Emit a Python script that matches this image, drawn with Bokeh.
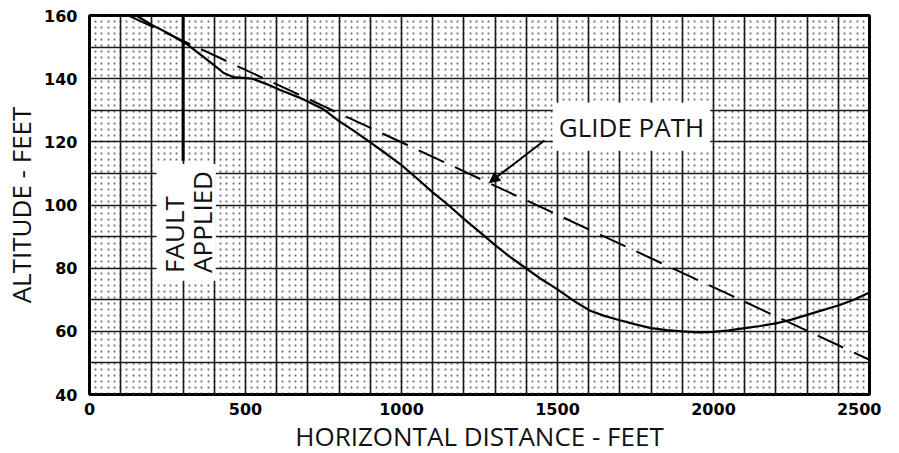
import math
from bokeh.plotting import figure
from bokeh.models import (Range1d, FixedTicker, SingleIntervalTicker, Label, Arrow,
                          NormalHead, BoxAnnotation)
from bokeh.embed import file_html
from bokeh.resources import INLINE

# ---- data ----
path_x = [150, 200, 250, 311, 360, 400, 430, 460, 522, 570, 609, 673, 747, 801, 850,
          900, 950, 1000, 1050, 1100, 1150, 1200, 1250, 1300, 1350, 1400, 1450, 1500,
          1550, 1603, 1650, 1700, 1750, 1800, 1850, 1900, 1950, 2000, 2050, 2100, 2150,
          2200, 2250, 2300, 2350, 2400, 2450, 2500]
path_y = [160, 157, 154.5, 151, 147.3, 144.2, 141.8, 140.5, 140, 138.2, 136.5, 134, 130.5,
          126.5, 123.3, 119.8, 116.3, 112.6, 108.4, 104, 100, 95.6, 91.5, 87.3, 83.4, 79.9,
          76.4, 73.3, 69.8, 66.6, 64.9, 63.5, 62.2, 61, 60.4, 60, 59.7, 59.8, 60.3, 61,
          61.7, 62.5, 63.7, 65.2, 66.7, 68.2, 70, 72.3]

glide_x = [125, 2500]
glide_y = [160, 51]

fault_x = [300, 300]
fault_y = [160, 114]

x_ticks = [0, 500, 1000, 1500, 2000, 2500]
y_ticks = [40, 60, 80, 100, 120, 140, 160]

arrow_tail = (1458, 120.4)
arrow_head = (1282, 107.1)

FONT = "Open Sans"

p = figure(frame_width=780, frame_height=379, output_backend="svg", toolbar_location=None,
           x_range=Range1d(0, 2500), y_range=Range1d(40, 160),
           min_border_left=82, min_border_top=15, min_border_right=12, min_border_bottom=40)
p.background_fill_color = "white"
p.border_fill_color = "white"
p.outline_line_color = "black"
p.outline_line_width = 3

# axes
p.xaxis.ticker = FixedTicker(ticks=x_ticks)
p.yaxis.ticker = FixedTicker(ticks=y_ticks)
for ax in (p.xaxis[0], p.yaxis[0]):
    ax.axis_line_color = None
    ax.major_tick_line_color = None
    ax.minor_tick_line_color = None
    ax.major_label_text_font = "DejaVu Sans"
    ax.major_label_text_font_style = "bold"
    ax.major_label_text_font_size = "16px"
    ax.major_label_text_color = "black"
    ax.axis_label_text_font = FONT
    ax.axis_label_text_font_style = "normal"
    ax.axis_label_text_font_size = "26px"
    ax.axis_label_text_color = "#111111"
p.xaxis.axis_label = "HORIZONTAL DISTANCE - FEET"
p.yaxis.axis_label = "ALTITUDE - FEET"
p.xaxis.major_label_standoff = 2
p.yaxis.major_label_standoff = 6
p.xaxis.axis_label_standoff = 0
p.yaxis.axis_label_standoff = 2

# graph-paper grid
p.xgrid.ticker = SingleIntervalTicker(interval=100, num_minor_ticks=5)
p.ygrid.ticker = SingleIntervalTicker(interval=10, num_minor_ticks=5)
p.xgrid.grid_line_color = "#1a1a1a"
p.ygrid.grid_line_color = "#1a1a1a"
p.xgrid.grid_line_width = 1.6
p.ygrid.grid_line_width = 1.6
p.xgrid.minor_grid_line_color = "#333333"
p.xgrid.minor_grid_line_alpha = 0.7
p.xgrid.minor_grid_line_width = 1.8
p.xgrid.minor_grid_line_dash = "2 4"
p.ygrid.minor_grid_line_color = None

# fault line
p.line(fault_x, fault_y, line_color="black", line_width=3)

# glide path (dashed) and actual path (solid)
p.line(glide_x, glide_y, line_color="black", line_width=2, line_dash="28 12")
p.line(path_x, path_y, line_color="black", line_width=2.2)

# labels
p.add_layout(Label(x=1485, y=124.8, text="GLIDE PATH", text_font=FONT, text_font_size="26px",
                   text_baseline="middle", text_align="left", text_color="#111111",
                   background_fill_color="white", padding=6))
p.add_layout(Arrow(x_start=arrow_tail[0], y_start=arrow_tail[1],
                   x_end=arrow_head[0], y_end=arrow_head[1], line_width=2,
                   end=NormalHead(size=10, fill_color="black", line_color="black")))

p.add_layout(BoxAnnotation(left=215, right=405, bottom=76, top=113, fill_color="white",
                           fill_alpha=1.0, line_color=None))
p.add_layout(Label(x=272, y=78.5, text="FAULT", angle=math.pi / 2, text_font=FONT,
                   text_font_size="26px", text_baseline="middle", text_align="left",
                   text_color="#111111"))
p.add_layout(Label(x=362, y=78.5, text="APPLIED", angle=math.pi / 2, text_font=FONT,
                   text_font_size="26px", text_baseline="middle", text_align="left",
                   text_color="#111111"))

open("out.html", "w").write(file_html(p, INLINE))
